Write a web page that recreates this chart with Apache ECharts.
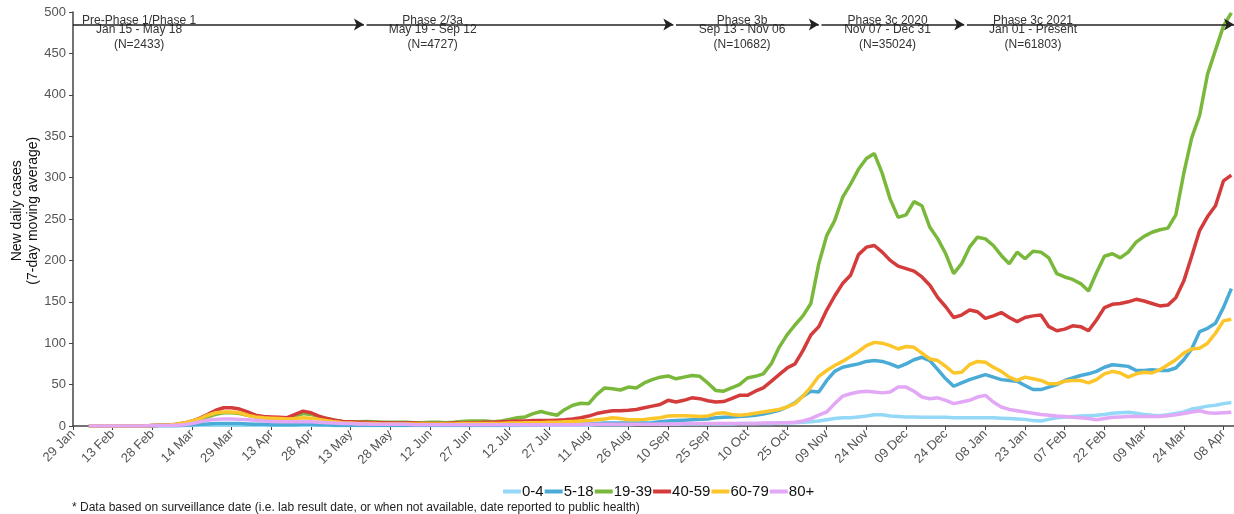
<!DOCTYPE html>
<html><head><meta charset="utf-8">
<script src="https://cdn.jsdelivr.net/npm/echarts@6/dist/echarts.min.js"></script>
<style>html,body{margin:0;padding:0;background:#fff}#c{width:1234px;height:514px}</style>
</head><body><div id="c"></div>
<script>
// x positions are day offsets from 29 Jan 2020
const tickLabels = ['29 Jan','13 Feb','28 Feb','14 Mar','29 Mar','13 Apr','28 Apr','13 May','28 May','12 Jun','27 Jun','12 Jul','27 Jul','11 Aug','26 Aug','10 Sep','25 Sep','10 Oct','25 Oct','09 Nov','24 Nov','09 Dec','24 Dec','08 Jan','23 Jan','07 Feb','22 Feb','09 Mar','24 Mar','08 Apr'];
const days = [6,9,12,15,18,21,24,27,30,33, 36,39,42,45,48,51,54,57,60,63, 66,69,72,75,78,81,84,87,90,93, 96,99,102,105,108,111,114,117,120,123, 126,129,132,135,138,141,144,147,150,153, 156,159,162,165,168,171,174,177,180,183, 186,189,192,195,198,201,204,207,210,213, 216,219,222,225,228,231,234,237,240,243, 246,249,252,255,258,261,264,267,270,273, 276,279,282,285,288,291,294,297,300,303, 306,309,312,315,318,321,324,327,330,333, 336,339,342,345,348,351,354,357,360,363, 366,369,372,375,378,381,384,387,390,393, 396,399,402,405,408,411,414,417,420,423, 426,429,432,435,438];

const age0_4 = [0,0,0,0,0,0,0,0,0,0, 0,0,0.5,0.5,1,1,1,1,1,1, 1,1,1,1,1,1,1,1,1,1, 1,0.5,0.5,0.5,0.5,0.5,0.5,0.5,0.5,0.5, 0.5,0.5,0.5,0.5,0.5,0.5,0.5,0.5,0.5,0.5, 0.5,0.5,0.5,0.5,0.5,1,1,1,1,1, 1,1,1,1,1.5,1.5,1.5,1.5,1.5,2, 2,2,2,2,2,2.5,2.5,2.5,2.5,2.5, 2.5,2.5,3,3,3,3,3,3.5,3.5,4, 4.5,5,6,7.5,9,10,10,11,12,13.5, 13.5,12,11.5,11,11,10.5,10.5,10.5,10.5,10, 10,10,10,10,10,9.5,9,8.5,8,6.5, 6,8,10,11,11.5,12,12.5,13,14,15.5, 16,16.5,15.5,14,13,12.5,13.5,15,17,20.5, 22,24,25,27,28.5];
const age5_18 = [0,0,0,0,0,0,0,0,0,0.5, 0.5,0.5,1,1.5,2,2.5,3,3,3,3, 2.5,2,2,1.5,1.5,1.5,1.5,2,2,1.5, 1.5,1,1,1,1,1,1,1,1,1, 1,1,1,1,1,1,1,1,1,1, 1,1,1,1.5,1.5,1.5,1.5,1.5,2,2, 2,2,2.5,2.5,3,3.5,3.5,3.5,3.5,3.5, 3.5,4,5,6,6.5,7,7.5,8,8.5,10, 10.5,11,11.5,12,13,14.5,16.5,19,23,28, 36,42,41,55,66,71,73,75,78,79, 78,75,71,75,80,83,79,68,57,48, 52,56,59,62,59,56,55,54,49,44, 44,47,50,55,58,61,63,66,71,74, 73,72,67,67,68,67,67,70,80,93, 114,118,124,143,166];
const age19_39 = [0,0,0,0,0,0,0,0,0.5,1, 1,1.5,3,5,8,11,14,16,16,15, 13,11,10,9.5,9,9,12,15,14,11, 9,7,5.5,5,5,5.5,5,4.5,4.5,4.5, 4.5,4,4,4.5,4.5,4,4.5,5.5,6,6, 6,5,6,8,10,11,15,17.5,15,13, 20,25,27.5,27,38,46,45,43.5,47,46, 52,56,59,60.5,57,59,61,60,52,43, 42,46,50,58,60,63,75,95,110,122, 133,148,196,230,248,276,292,310,323,329, 305,274,252,255,271,266,240,226,208,184, 196,216,228,226,218,206,196,210,202,211, 210,203,184,180,177,172,163,185,205,208, 203,210,222,229,234,237,239,255,305,348, 375,425,454,483,499];
const age40_59 = [0,0,0,0,0,0,0,0,0.5,1, 1,2,3.5,6,9.5,14,19,22,22,20.5, 17,13,11.5,11,10.5,10,14,18,16,12, 9,7,5.5,5,4.5,4.5,4,4,3.5,3.5, 3.5,3.5,3,3,3,3,3.5,3.5,4,4, 4.5,4.5,5,5.5,6,6,6.5,6.5,6.5,7, 7.5,8.5,10,12,15,17,18.5,18.5,19,20, 22,24,26,31,29,31,34,33,30.5,29, 29.5,33,37,37,42,46,54,62,70,75, 91,110,120,140,157,172,182,207,216,218, 210,200,193,190,187,180,170,155,144,131, 134,140,138,130,133,137,131,126,131,133, 134,120,115,117,121,120,115,128,143,147, 148,150,153,151,148,145,146,155,175,205, 236,253,266,296,303];
const age60_79 = [0,0,0,0,0,0,0,0,0.5,1, 1,2,3.5,6,9,13,16,17,17,16, 13,11,10,9.5,9,8.5,9,10,9.5,8, 6.5,5,4,3.5,3,3,3,2.5,2.5,2.5, 2.5,2.5,2.5,2.5,2.5,2.5,2.5,3,3,3, 3,3,3,3.5,3.5,4,4,4,4.5,4.5, 5,5.5,6,6.5,7.5,8.5,10,9,7.5,7.5, 8,9,10,12,12.5,12.5,12,11.5,12,15, 16,14,13,14,15.5,17,18.5,20,23,27, 36,47,60,67,73,78,84,90,97,101, 100,97,93,96,95,88,81,79,72,64, 65,74,78,77,71,66,59,55,59,57, 55,51,51,54,55,55,52,56,63,66, 64,59,63,65,64,68,74,80,88,93, 94,100,112,127,129];
const age80plus = [0,0,0,0,0,0,0,0,0.5,0.5, 0.5,1,1.5,3,5,7,8,8.5,8.5,8, 7.5,7,6,5.5,5,5,5,5,5,4.5, 4,3.5,3,3,2.5,2.5,2,2,2,2, 2,1.5,1.5,1.5,1.5,1.5,1.5,1.5,1.5,1.5, 1.5,1.5,1.5,1.5,1.5,1.5,1.5,1.5,1.5,1.5, 1.5,1.5,1.5,2,2,2,2,2,2,2, 2,2,2.5,2.5,2.5,3,3,3,3,3, 3,3,3,3,3,3.5,3.5,4,4,4.5, 6,9,13,17,27,36,39,41,42,41, 40,41,47,47,42,35,33,34,31,27, 29,31,35,37,29,23,20,18.5,17,15.5, 14,13,12,11.5,10.5,10,9,7.5,9,10.5, 11,11.5,11.5,11.5,11.5,11.5,12.5,13.5,15,17, 18.5,16,15.5,16,16.5];

const seriesNames = ['0-4','5-18','19-39','40-59','60-79','80+'];
const seriesValues = [age0_4, age5_18, age19_39, age40_59, age60_79, age80plus];

const phaseNames = ['Pre-Phase 1/Phase 1','Phase 2/3a','Phase 3b','Phase 3c 2020','Phase 3c 2021'];
const phaseRanges = ['Jan 15 - May 18','May 19 - Sep 12','Sep 13 - Nov 06','Nov 07 - Dec 31','Jan 01 - Present'];
const phaseCounts = ['(N=2433)','(N=4727)','(N=10682)','(N=35024)','(N=61803)'];
const phaseStartDay = [-14,111,228,283,338];
const phaseEndDay = [110,227,282,337,null];

const footnote = '* Data based on surveillance date (i.e. lab result date, or when not available, date reported to public health)';
const yTitleLines = ['New daily cases', '(7-day moving average)'];

const X_MIN = 0, X_MAX = 439, ARROW_Y = 485;
const colors = ['#93d8f6','#4aabd6','#7ab83c','#d43c3c','#fcc52a','#e2a8f6'];
const tickDays = tickLabels.map((_, i) => i * 15);

const chart = echarts.init(document.getElementById('c'));
const font = "'Liberation Sans', Arial, sans-serif";

const series = seriesNames.map((name, k) => ({
  name, type: 'line', showSymbol: false, symbol: 'none',
  data: days.map((d, i) => [d, seriesValues[k][i]]),
  lineStyle: { color: colors[k], width: 3.5 },
  itemStyle: { color: colors[k] },
  emphasis: { disabled: true }
}));

series[0].markLine = {
  silent: true, symbol: ['none', 'arrow'], symbolSize: [9, 10],
  lineStyle: { color: '#222', width: 1.5, type: 'solid' },
  label: { show: false }, emphasis: { disabled: true },
  data: phaseStartDay.map((s, i) => [
    { coord: [Math.max(s, X_MIN), ARROW_Y] },
    { coord: [phaseEndDay[i] == null ? X_MAX : phaseEndDay[i], ARROW_Y] }
  ])
};

chart.setOption({
  animation: false,
  textStyle: { fontFamily: font },
  grid: { left: 73, right: 0, top: 12, bottom: 88, outerBoundsMode: 'none', containLabel: false },
  legend: {
    top: 479, left: 498, icon: 'rect', itemWidth: 18, itemHeight: 4, itemGap: 1,
    textStyle: { fontSize: 15, color: '#111', padding: [0, 0, 0, -4] },
    data: seriesNames
  },
  xAxis: {
    type: 'value', min: X_MIN, max: X_MAX,
    axisLine: { show: true, lineStyle: { color: '#444', width: 1.5 } },
    axisTick: { show: true, length: 4, customValues: tickDays, lineStyle: { color: '#444' } },
    axisLabel: { customValues: tickDays, rotate: 45, fontSize: 13, color: '#555', margin: 6,
      formatter: v => { const i = Math.round(v / 15); return tickLabels[i] || ''; } },
    splitLine: { show: false }
  },
  yAxis: {
    type: 'value', min: 0, max: 500, interval: 50,
    axisLine: { show: true, lineStyle: { color: '#444', width: 1.5 } },
    axisTick: { show: true, length: 4, lineStyle: { color: '#444' } },
    axisLabel: { fontSize: 13, color: '#555', margin: 7 },
    splitLine: { show: false }
  },
  series
});

const arrowPy = chart.convertToPixel({ gridIndex: 0 }, [0, ARROW_Y])[1];
const midPy = chart.convertToPixel({ gridIndex: 0 }, [0, 260])[1];
const gfx = [];
phaseNames.forEach((nm, i) => {
  const px = chart.convertToPixel({ gridIndex: 0 }, [Math.max(phaseStartDay[i], X_MIN) + 25, ARROW_Y])[0];
  const mk = (text, dy) => ({ type: 'text', x: px, y: arrowPy + dy, silent: true,
    style: { text, fill: '#333', font: '12px ' + font, align: 'center', verticalAlign: 'middle' } });
  gfx.push(mk(nm, -3.6), mk(phaseRanges[i], 5.7), mk(phaseCounts[i], 20));
});
yTitleLines.forEach((t, i) => gfx.push({ type: 'text', x: 17 + i * 16, y: midPy, rotation: Math.PI / 2, silent: true,
  style: { text: t, fill: '#111', font: '14px ' + font, align: 'center', verticalAlign: 'middle' } }));
gfx.push({ type: 'text', left: 72, top: 502, silent: true,
  style: { text: footnote, fill: '#222', font: '12px ' + font } });
chart.setOption({ graphic: gfx });
</script></body></html>
